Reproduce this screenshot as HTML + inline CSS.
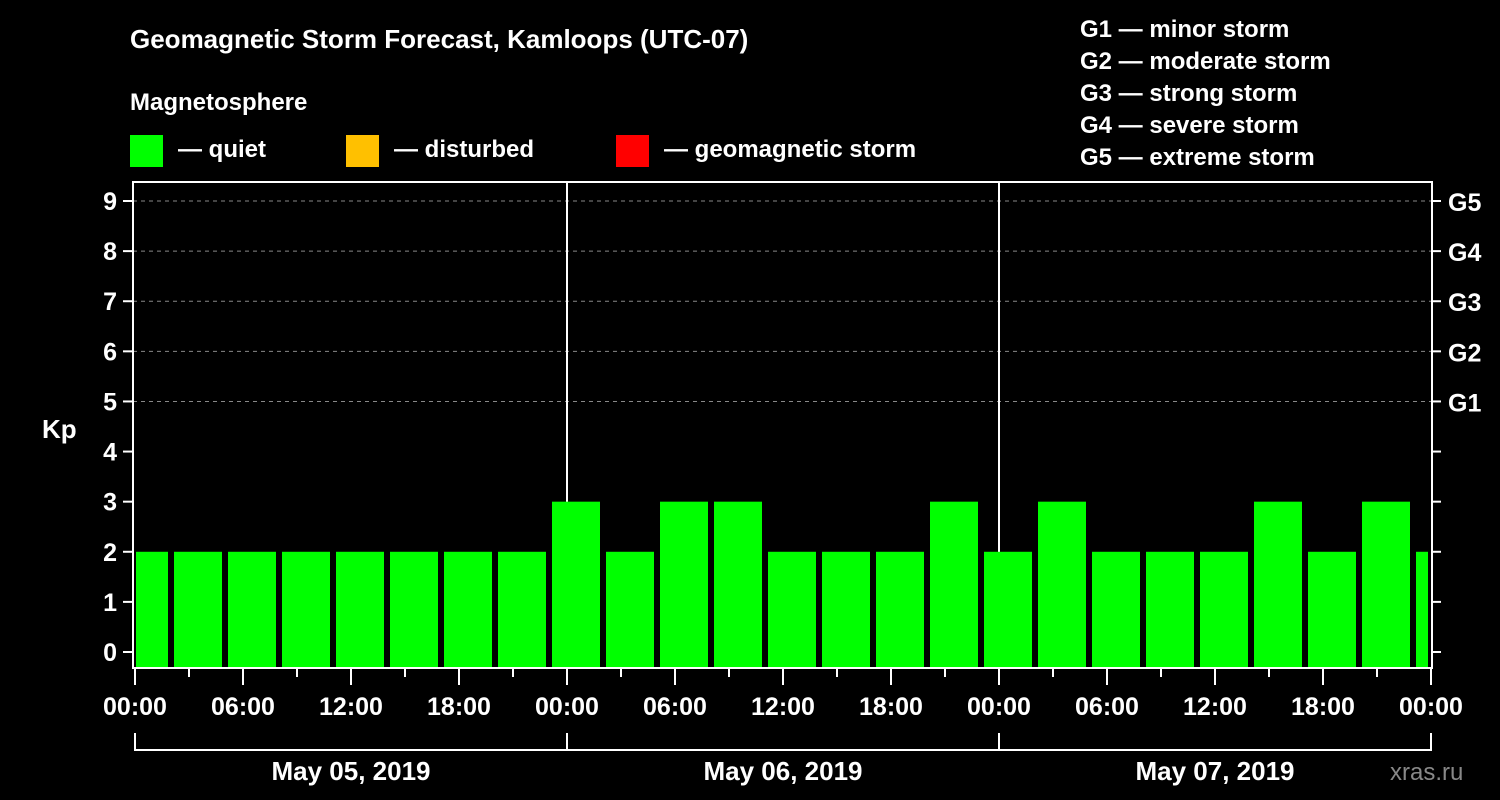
<!DOCTYPE html>
<html><head><meta charset="utf-8"><style>
html,body{margin:0;padding:0;background:#000;}
svg{display:block;font-family:"Liberation Sans",sans-serif;font-weight:bold;}
</style></head><body>
<svg width="1500" height="800" viewBox="0 0 1500 800">
<rect x="0" y="0" width="1500" height="800" fill="#000"/>
<text x="130" y="48" fill="#fff" font-size="26">Geomagnetic Storm Forecast, Kamloops (UTC-07)</text>
<text x="130" y="110" fill="#fff" font-size="24">Magnetosphere</text>
<g><rect x="130" y="135" width="33" height="32" fill="#00ff00"/><text x="178" y="157" fill="#fff" font-size="24">— quiet</text></g>
<g><rect x="346" y="135" width="33" height="32" fill="#ffc000"/><text x="394" y="157" fill="#fff" font-size="24">— disturbed</text></g>
<g><rect x="616" y="135" width="33" height="32" fill="#ff0000"/><text x="664" y="157" fill="#fff" font-size="24">— geomagnetic storm</text></g>
<g fill="#fff" font-size="24">
<text x="1080" y="37">G1 — minor storm</text>
<text x="1080" y="69">G2 — moderate storm</text>
<text x="1080" y="101">G3 — strong storm</text>
<text x="1080" y="133">G4 — severe storm</text>
<text x="1080" y="165">G5 — extreme storm</text>
</g>
<text x="42" y="438" fill="#fff" font-size="26">Kp</text>
<text x="1390" y="780" fill="#888" font-size="24" font-weight="normal">xras.ru</text>
<g id="grid"></g>
<g id="daylines"></g>
<g id="bars"></g>
<g id="axes"></g>
<script>
const kpValues=[2,2,2,2,2,2,2,2,3,2,3,3,2,2,2,3,2,3,2,2,2,3,2,3,2];
const yTicks=[0,1,2,3,4,5,6,7,8,9];
const gLabels=["G1","G2","G3","G4","G5"];
const gLevels=[5,6,7,8,9];
const xTickLabels=["00:00","06:00","12:00","18:00","00:00","06:00","12:00","18:00","00:00","06:00","12:00","18:00","00:00"];
const dayLabels=["May 05, 2019","May 06, 2019","May 07, 2019"];
const barStartHour=-1, barHours=3;
const NS="http://www.w3.org/2000/svg";
const L=133,R=1432,T=182,B=668;
const y=v=>652-v*50.11;
const x=h=>135+h*18;
function mk(t,a,p){const e=document.createElementNS(NS,t);for(const k in a)e.setAttribute(k,a[k]);p.appendChild(e);return e;}
const grid=document.getElementById('grid');
gLevels.forEach(v=>{const l=mk('line',{x1:L,x2:R,y1:y(v),y2:y(v),stroke:'#888','stroke-width':1,'stroke-dasharray':'4,4'},grid);

});
const dl=document.getElementById('daylines');
[1,2].forEach(d=>{const l=mk('line',{x1:x(d*24),x2:x(d*24),y1:T-1,y2:B,stroke:'#fff','stroke-width':2},dl);

});
const bars=document.getElementById('bars');
kpValues.forEach((v,i)=>{
 let x0=x(barStartHour+i*barHours)+3, x1=x(barStartHour+(i+1)*barHours)-3;
 x0=Math.max(x0,L+3); x1=Math.min(x1,R-4);
 const c=v>=5?'#ff0000':(v>=4?'#ffc000':'#00ff00');
 const r=mk('rect',{x:x0,y:y(v),width:x1-x0,height:B-y(v),fill:c},bars);
 
 
});
const ax=document.getElementById('axes');
const fr=mk('rect',{x:L,y:T,width:R-L,height:B-T,fill:'none',stroke:'#fff','stroke-width':2},ax);


yTicks.forEach(v=>{
 mk('line',{x1:L-10,x2:L,y1:y(v),y2:y(v),stroke:'#fff','stroke-width':2},ax);
 mk('line',{x1:R,x2:R+9,y1:y(v),y2:y(v),stroke:'#fff','stroke-width':2},ax);
 const t=mk('text',{x:L-16,y:y(v)+9,fill:'#fff','font-size':25,'text-anchor':'end'},ax);t.textContent=v;
 
 
});
gLevels.forEach((v,i)=>{const t=mk('text',{x:1448,y:y(v)+10,fill:'#fff','font-size':25},ax);t.textContent=gLabels[i];
 
 });
for(let h=0;h<=72;h+=3){const major=h%6===0;mk('line',{x1:x(h),x2:x(h),y1:B,y2:B+(major?17:9),stroke:'#fff','stroke-width':2},ax);}
xTickLabels.forEach((s,i)=>{const t=mk('text',{x:x(i*6),y:715,fill:'#fff','font-size':25,'text-anchor':'middle'},ax);t.textContent=s;
 
 });
dayLabels.forEach((s,d)=>{
 const p=mk('path',{d:`M${x(d*24)},733 V750 H${x(d*24+24)} V733`,fill:'none',stroke:'#fff','stroke-width':2},ax);
 
 
 const t=mk('text',{x:x(d*24+12),y:780,fill:'#fff','font-size':26,'text-anchor':'middle'},ax);t.textContent=s;
 
 
});
</script>
</svg>
</body></html>
